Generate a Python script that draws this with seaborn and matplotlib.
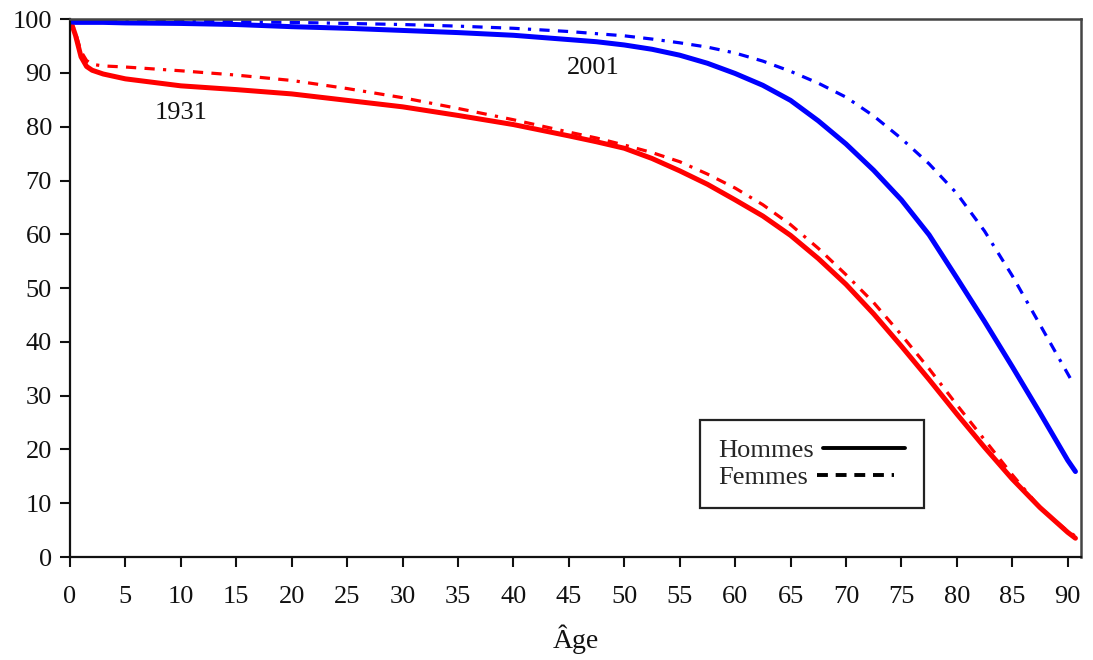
import numpy as np
import pandas as pd
import seaborn as sns
import matplotlib
matplotlib.use("Agg")
import matplotlib.pyplot as plt
from matplotlib.lines import Line2D

# ---- data ----
ages = [0, 0.5, 1, 1.5, 2, 3, 5, 10, 15, 20, 25, 30, 35, 40, 45, 47.5, 50, 52.5,
        55, 57.5, 60, 62.5, 65, 67.5, 70, 72.5, 75, 77.5, 80, 82.5, 85, 87.5, 90, 90.7]

hommes_1931 = [100, 97.0, 93.0, 91.2, 90.5, 89.8, 88.9, 87.6, 86.9, 86.1, 84.9,
               83.7, 82.1, 80.4, 78.3, 77.2, 76.0, 74.1, 71.8, 69.3, 66.4, 63.4,
               59.8, 55.5, 50.7, 45.2, 39.2, 33.0, 26.6, 20.4, 14.5, 9.2, 4.6, 3.5]
femmes_1931 = [100, 97.5, 94.0, 92.3, 91.6, 91.3, 91.1, 90.4, 89.6, 88.6, 87.1,
               85.4, 83.4, 81.3, 79.0, 77.9, 76.6, 75.2, 73.5, 71.2, 68.6, 65.5,
               61.8, 57.4, 52.5, 47.3, 41.3, 35.0, 28.3, 21.8, 15.3, 9.2, 4.8, 3.9]
hommes_2001 = [99.5, 99.4, 99.4, 99.4, 99.4, 99.4, 99.3, 99.2, 99.0, 98.6, 98.3,
               97.9, 97.5, 97.0, 96.2, 95.8, 95.2, 94.4, 93.3, 91.8, 89.9, 87.7,
               84.9, 81.1, 76.8, 71.9, 66.4, 59.9, 51.9, 43.8, 35.4, 26.8, 18.0, 15.9]
femmes_2001 = [99.7, 99.7, 99.7, 99.7, 99.7, 99.7, 99.6, 99.6, 99.5, 99.4, 99.2,
               99.0, 98.7, 98.3, 97.7, 97.3, 96.9, 96.3, 95.6, 94.8, 93.7, 92.2,
               90.3, 88.1, 85.5, 82.0, 77.8, 73.1, 67.6, 60.6, 52.3, 43.2, 33.0, 31.5]

x_ticks = list(range(0, 91, 5))
y_ticks = list(range(0, 101, 10))
annotations = [("1931", 10.0, 82.5), ("2001", 47.2, 91.0)]

# ---- build long table ----
frames = []
for annee, sexe, vals in [("1931", "Hommes", hommes_1931), ("1931", "Femmes", femmes_1931),
                          ("2001", "Hommes", hommes_2001), ("2001", "Femmes", femmes_2001)]:
    frames.append(pd.DataFrame({"age": ages, "survie": vals, "annee": annee, "sexe": sexe}))
df = pd.concat(frames, ignore_index=True)
# femmes 2001 ends a little earlier
df = df[~((df.annee == "2001") & (df.sexe == "Femmes") & (df.age > 90.5))]
df.loc[(df.annee == "2001") & (df.sexe == "Femmes") & (df.age == 90), "age"] = 90.3

sns.set_theme(style="ticks")
plt.rcParams["font.family"] = ["Liberation Serif", "DejaVu Serif"]

fig, ax = plt.subplots(figsize=(10.93, 6.60), dpi=100)
fig.subplots_adjust(left=0.064, right=0.989, top=0.971, bottom=0.156)

palette = {"1931": "#ff0000", "2001": "#0000ff"}
dash_f = (3.2, 2.6, 3.2, 2.6, 3.2, 2.6, 1.0, 2.6)

sns.lineplot(data=df[df.sexe == "Femmes"], x="age", y="survie", hue="annee",
             palette=palette, ax=ax, legend=False, linewidth=2.3,
             dashes=[dash_f], style="sexe", estimator=None, sort=False)
sns.lineplot(data=df[df.sexe == "Hommes"], x="age", y="survie", hue="annee",
             palette=palette, ax=ax, legend=False, linewidth=3.6,
             estimator=None, sort=False)

for txt, xx, yy in annotations:
    ax.text(xx, yy, txt, fontsize=19, ha="center", va="center", color="#111111")

ax.set_xlim(0, 91.2)
ax.set_ylim(0, 100)
ax.set_xticks(x_ticks)
ax.set_yticks(y_ticks)
ax.tick_params(axis="both", labelsize=19, length=7, width=1.5, direction="out",
               color="#111111", labelcolor="#111111")
ax.tick_params(axis="x", pad=14)
ax.tick_params(axis="y", pad=6)
ax.set_xlabel("Âge", fontsize=20, color="#111111", labelpad=12)
ax.set_ylabel("")

for side in ["left", "bottom"]:
    ax.spines[side].set_color("#111111")
    ax.spines[side].set_linewidth(1.6)
for side in ["top", "right"]:
    ax.spines[side].set_visible(True)
    ax.spines[side].set_color("#444444")
    ax.spines[side].set_linewidth(1.8)

handles = [Line2D([0], [0], color="black", lw=2.8, linestyle="-"),
           Line2D([0], [0], color="black", lw=2.8,
                  linestyle=(0, (2.8, 2.0, 2.8, 2.0, 2.8, 2.0, 2.8, 2.0, 0.6, 2.0)))]
leg = ax.legend(handles, ["Hommes", "Femmes"], loc="upper left",
                bbox_to_anchor=(0.623, 0.255), markerfirst=False, fontsize=19,
                handlelength=3.1, handletextpad=0.35, labelspacing=0.15,
                frameon=True, fancybox=False, borderpad=0.7, borderaxespad=0)
for col in leg._legend_handle_box.get_children():
    col.align = "left"
leg.get_frame().set_edgecolor("#222222")
leg.get_frame().set_linewidth(1.6)
leg.get_frame().set_alpha(1)

fig.savefig("out.png", dpi=100)
